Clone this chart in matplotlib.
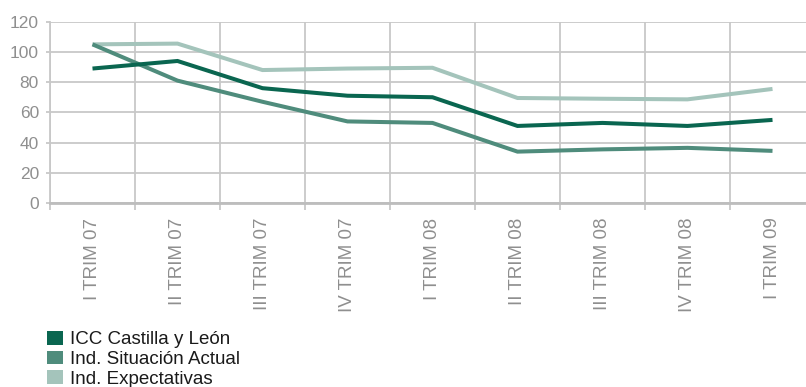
import matplotlib
matplotlib.use("Agg")
import matplotlib.pyplot as plt
from matplotlib.patches import Patch
import numpy as np

plt.rcParams['font.family'] = ['Liberation Sans', 'DejaVu Sans']

quarters = ["I TRIM 07", "II TRIM 07", "III TRIM 07", "IV TRIM 07",
            "I TRIM 08", "II TRIM 08", "III TRIM 08", "IV TRIM 08", "I TRIM 09"]
icc = [89, 94, 76, 71, 70, 51, 53, 51, 55]
situacion = [105, 81, 67, 54, 53, 34, 35.5, 36.5, 34.5]
expectativas = [105, 105.5, 88, 89, 89.5, 69.5, 69, 68.6, 75.5]

series_names = ["ICC Castilla y León", "Ind. Situación Actual", "Ind. Expectativas"]
colors = ["#0a6650", "#4f8c7c", "#a4c4bb"]
grid_color = "#c8c8c8"
text_color = "#8f8f8f"

fig = plt.figure(figsize=(8.06, 3.87), dpi=100)
ax = fig.add_axes([50 / 806, (387 - 203) / 387, 765 / 806, (203 - 21.7) / 387])

x = np.arange(len(quarters)) + 0.5
# draw lighter series first so the headline index sits on top
for vals, col in zip([expectativas, situacion, icc], colors[::-1]):
    ax.plot(x, vals, color=col, lw=2.9, solid_capstyle='butt', solid_joinstyle='miter', zorder=3)

ax.set_xlim(0, len(quarters))
ax.set_ylim(0, 120)
ax.set_yticks(range(0, 121, 20))
ax.set_xticks(x)
ax.set_xticklabels(quarters, rotation=90, va='top', ha='center')
ax.set_xticks(np.arange(len(quarters) + 1), minor=True)

ax.grid(True, which='minor', axis='x', color=grid_color, lw=1.3)
ax.grid(True, which='major', axis='y', color=grid_color, lw=1.3)
ax.set_axisbelow(True)

ax.tick_params(axis='x', which='major', length=0, pad=10.5, labelsize=13.5, labelcolor=text_color)
ax.tick_params(axis='x', which='minor', length=5, width=1.3, color=grid_color, direction='out')
ax.tick_params(axis='y', length=3, width=1.3, color=grid_color, pad=5, labelsize=12.5, labelcolor=text_color)

for s in ['top', 'right']:
    ax.spines[s].set_visible(False)
ax.spines['left'].set_color(grid_color)
ax.spines['left'].set_linewidth(1.3)
ax.spines['bottom'].set_color("#bdbdbd")
ax.spines['bottom'].set_linewidth(2)

handles = [Patch(facecolor=c, edgecolor='none') for c in colors]
fig.legend(handles, series_names, loc='upper left', bbox_to_anchor=(47 / 806, 1 - 331 / 387),
           frameon=False, fontsize=13.5, handlelength=0.85, handleheight=0.75,
           handletextpad=0.4, labelspacing=0.12, borderpad=0, borderaxespad=0,
           labelcolor='#1a1a1a')

fig.savefig("out.png", dpi=100)
